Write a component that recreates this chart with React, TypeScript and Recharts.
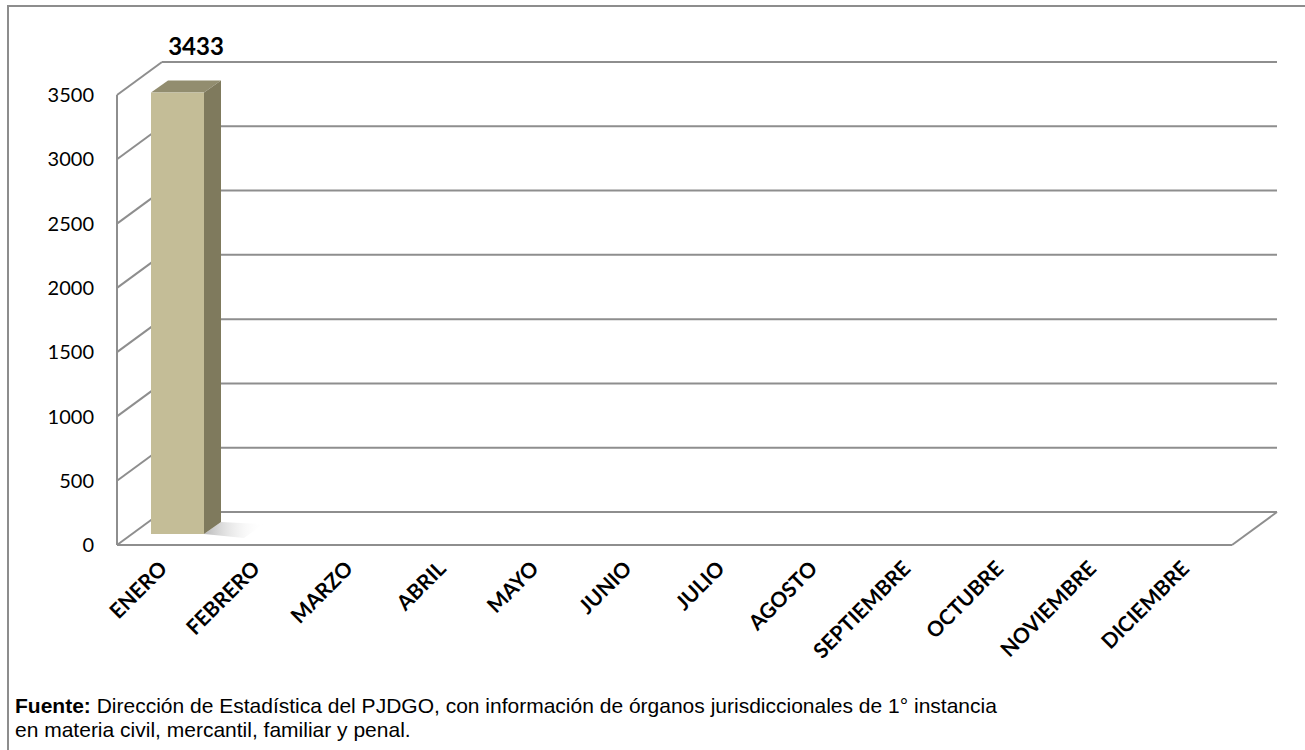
import React from "react";
import { BarChart, Bar, XAxis, YAxis, CartesianGrid, LabelList } from "recharts";

// meses y valores (solo enero tiene dato)
const months = [
  "ENERO", "FEBRERO", "MARZO", "ABRIL", "MAYO", "JUNIO",
  "JULIO", "AGOSTO", "SEPTIEMBRE", "OCTUBRE", "NOVIEMBRE", "DICIEMBRE",
];
const values: (number | null)[] = [3433, null, null, null, null, null, null, null, null, null, null, null];
const yTicks = [0, 500, 1000, 1500, 2000, 2500, 3000, 3500];

const data = months.map((m, i) => ({ month: m, value: values[i] }));

const W = 1305;
const H = 750;
const Y_AXIS_W = 60;
const X_AXIS_H = 30;
// área del plano frontal: x 117..1232, y 95..545
const margin = { top: 95, right: 73, bottom: 205 - X_AXIS_H, left: 117 - Y_AXIS_W };
const PLOT_BOTTOM = 545;

// profundidad de las paredes 3D
const DX = 45;
const DY = -33;
// posición y profundidad de la barra
const BX = 14;
const BY = -11;
const BDX = 17;
const BDY = -12;

const GRID = "#8e8e8e";
const LABEL_FONT = "Lato, 'Open Sans', sans-serif";

const gridLine = (props: any) => {
  const { x1, x2, y1, key } = props;
  const isZero = Math.abs(y1 - PLOT_BOTTOM) < 1;
  return (
    <g key={key}>
      <line x1={x1 + DX} y1={y1 + DY} x2={x2 + DX} y2={y1 + DY} stroke={GRID} strokeWidth={2} />
      <line x1={x1} y1={y1} x2={x1 + DX} y2={y1 + DY} stroke={GRID} strokeWidth={2} />
      {isZero && <line x1={x2} y1={y1} x2={x2 + DX} y2={y1 + DY} stroke={GRID} strokeWidth={2} />}
    </g>
  );
};

const Bar3D = (props: any) => {
  const { x, y, width, height } = props;
  if (!height || height <= 0) return null;
  const fx = x + BX;
  const fy = y + BY;
  const bottom = fy + height;
  return (
    <g>
      <polygon
        points={`${fx + width},${bottom} ${fx + width + BDX},${bottom + BDY} ${fx + width + 60},${bottom + BDY + 2} ${fx + width + 40},${bottom + 4}`}
        fill="url(#floorShadow)"
      />
      <polygon
        points={`${fx},${fy} ${fx + BDX},${fy + BDY} ${fx + width + BDX},${fy + BDY} ${fx + width},${fy}`}
        fill="#928d6f"
      />
      <polygon
        points={`${fx + width},${fy} ${fx + width + BDX},${fy + BDY} ${fx + width + BDX},${bottom + BDY} ${fx + width},${bottom}`}
        fill="#7f7a5d"
      />
      <rect x={fx} y={fy} width={width} height={height} fill="#c4bd97" />
    </g>
  );
};

const MonthTick = (props: any) => {
  const { x, y, payload } = props;
  return (
    <text
      x={0}
      y={0}
      transform={`translate(${x + 5},${y + 17}) rotate(-45)`}
      textAnchor="end"
      fontFamily={LABEL_FONT}
      fontWeight="bold"
      fontSize={21}
      fill="#000"
    >
      {payload.value}
    </text>
  );
};

const ValueLabel = (props: any) => {
  const { x, y, width, value } = props;
  if (value == null) return null;
  return (
    <text
      x={x + width / 2 + BX + BDX / 2 + 10}
      y={y - 49}
      textAnchor="middle"
      fontFamily={LABEL_FONT}
      fontWeight="bold"
      fontSize={24}
      fill="#000"
    >
      {value}
    </text>
  );
};

export default function App() {
  return (
    <div style={{ position: "absolute", left: 0, top: 0, width: W, height: H, overflow: "hidden", background: "#fff" }}>
      <div
        style={{
          position: "absolute",
          left: 7,
          top: 5,
          width: 1400,
          height: 900,
          border: "2px solid #8d8d8d",
        }}
      />
      <div style={{ position: "absolute", left: 0, top: 0 }}>
        <BarChart width={W} height={H} data={data} margin={margin}>
          <defs>
            <linearGradient id="floorShadow" x1="0" y1="0" x2="1" y2="0">
              <stop offset="0%" stopColor="#9a9a9a" stopOpacity={0.7} />
              <stop offset="100%" stopColor="#ffffff" stopOpacity={0} />
            </linearGradient>
          </defs>
          <CartesianGrid vertical={false} horizontal={gridLine} />
          <XAxis
            dataKey="month"
            height={X_AXIS_H}
            interval={0}
            tickLine={false}
            axisLine={{ stroke: GRID, strokeWidth: 2 }}
            tick={<MonthTick />}
          />
          <YAxis
            width={Y_AXIS_W}
            domain={[0, 3500]}
            ticks={yTicks}
            interval={0}
            tickLine={false}
            tickSize={0}
            tickMargin={23}
            axisLine={{ stroke: GRID, strokeWidth: 2 }}
            tick={{ fontFamily: LABEL_FONT, fontSize: 20, fill: "#000" }}
          />
          <Bar dataKey="value" barSize={53} shape={Bar3D} isAnimationActive={false}>
            <LabelList dataKey="value" content={ValueLabel} />
          </Bar>
        </BarChart>
      </div>
      <div
        style={{
          position: "absolute",
          left: 15,
          top: 694,
          fontFamily: "Arial, 'Liberation Sans', sans-serif",
          fontSize: 21,
          lineHeight: "24px",
          color: "#000",
          whiteSpace: "nowrap",
        }}
      >
        <b>Fuente:</b> Dirección de Estadística del PJDGO, con información de órganos jurisdiccionales de 1° instancia
        <br />
        en materia civil, mercantil, familiar y penal.
      </div>
    </div>
  );
}
